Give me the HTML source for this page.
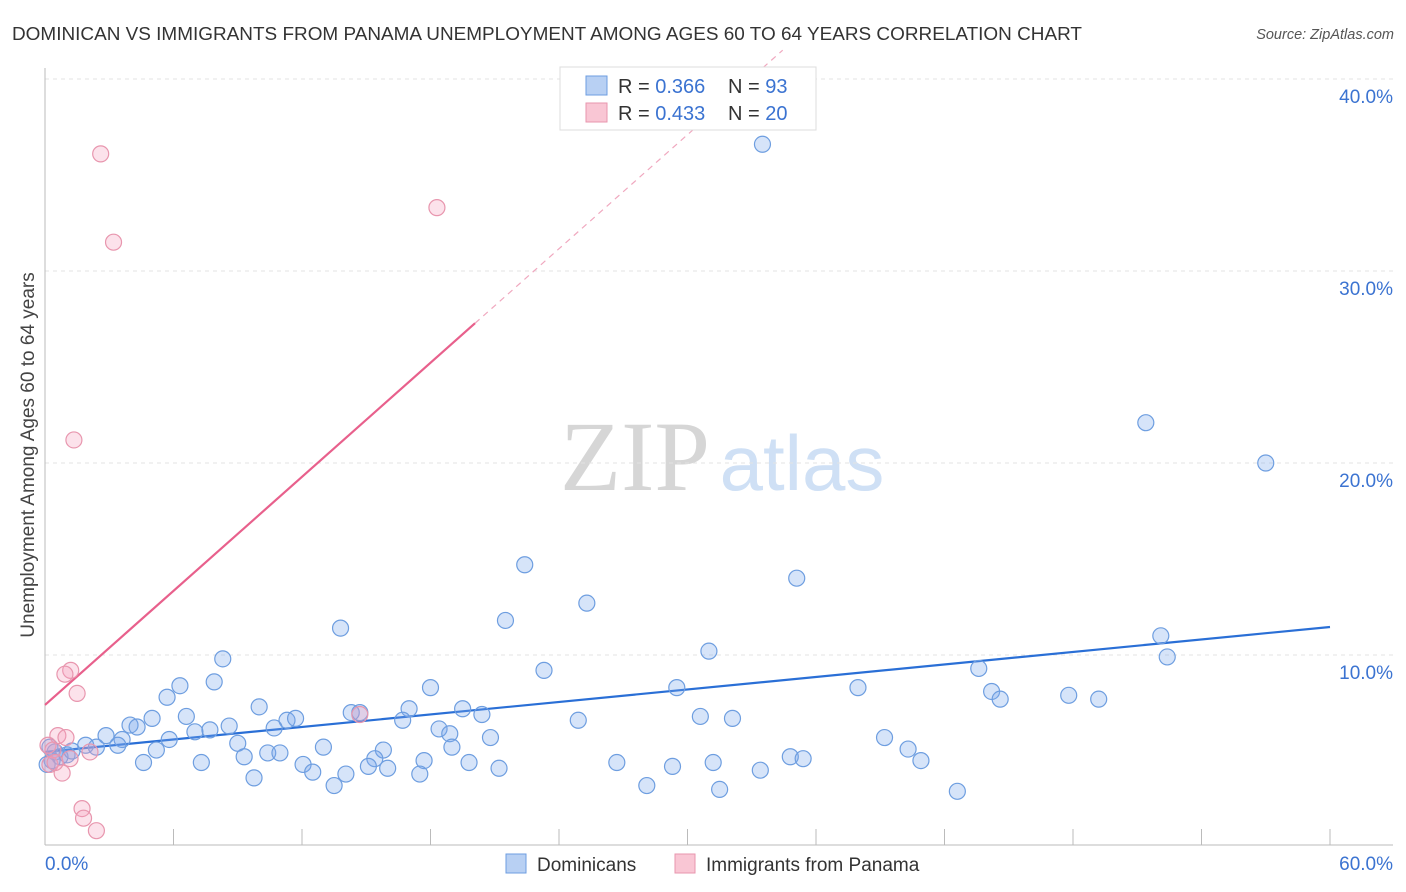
<!DOCTYPE html>
<html><head><meta charset="utf-8">
<style>
body{margin:0;background:#fff;font-family:"Liberation Sans",sans-serif;}
#wrap{position:relative;width:1406px;height:892px;overflow:hidden;}
svg text{font-family:"Liberation Sans",sans-serif;}
</style></head>
<body>
<div id="wrap">
<svg id="chart" width="1406" height="892">
<text x="12" y="40" font-size="18" fill="#333" textLength="1070" lengthAdjust="spacingAndGlyphs">DOMINICAN VS IMMIGRANTS FROM PANAMA UNEMPLOYMENT AMONG AGES 60 TO 64 YEARS CORRELATION CHART</text>
<text x="1394" y="39" font-size="14.5" fill="#555" text-anchor="end" font-style="italic">Source: ZipAtlas.com</text>
<text x="0" y="0" font-size="19" fill="#444" transform="translate(34,455) rotate(-90)" text-anchor="middle">Unemployment Among Ages 60 to 64 years</text>
<g>
<text x="635" y="490" font-size="100" fill="#d6d6d6" style="font-family:'Liberation Serif',serif" text-anchor="middle">ZIP</text>
<text x="802" y="490" font-size="78" fill="#cfe0f5" text-anchor="middle">atlas</text>
</g>
<g id="grid"></g>
<g id="axes"></g>
<g id="lines"></g>
<g id="points"></g>
<g>
<rect x="560" y="67" width="256" height="63" fill="#fff" stroke="#ddd"/>
<rect x="586" y="76" width="21" height="19" fill="#b8d0f3" stroke="#6e9ee0"/>
<rect x="586" y="103" width="21" height="19" fill="#f9c6d4" stroke="#e896ae"/>
<text x="618" y="93" font-size="20" fill="#333">R = <tspan fill="#3b73d1">0.366</tspan></text>
<text x="728" y="93" font-size="20" fill="#333">N = <tspan fill="#3b73d1">93</tspan></text>
<text x="618" y="120" font-size="20" fill="#333">R = <tspan fill="#3b73d1">0.433</tspan></text>
<text x="728" y="120" font-size="20" fill="#333">N = <tspan fill="#3b73d1">20</tspan></text>
</g>
<g>
<rect x="506" y="854" width="20" height="19" fill="#b8d0f3" stroke="#6e9ee0"/>
<text x="537" y="871" font-size="19" fill="#333">Dominicans</text>
<rect x="675" y="854" width="20" height="19" fill="#f9c6d4" stroke="#e896ae"/>
<text x="706" y="871" font-size="19" fill="#333">Immigrants from Panama</text>
</g>
</svg>
</div>
<script>
const blueX=[33.5,51.4,57.0,22.4,35.1,25.3,21.5,13.8,52.1,52.4,31.0,8.3,23.3,43.6,6.3,7.9,18.0,29.5,37.96,44.2,47.8,49.2,44.6,5.7,10.0,17.0,19.5,5.0,6.6,14.3,14.7,20.4,11.3,11.7,16.7,24.9,30.6,32.1,3.97,8.6,7.7,10.7,18.4,4.3,7.0,2.85,18.9,5.8,3.6,20.8,39.2,9.0,1.9,3.4,2.4,13.0,19.0,40.3,5.2,15.8,10.4,10.97,9.3,34.8,35.4,15.4,17.7,4.6,7.3,26.7,40.9,19.8,31.2,12.05,15.1,29.3,16.0,21.2,12.5,14.05,33.4,17.5,9.76,13.5,28.1,31.5,42.6,0.23,0.47,0.7,0.33,1.03,0.1,1.26];
const blueY=[36.6,22.1,20.0,14.7,14.0,12.7,11.8,11.4,11.0,9.9,10.2,9.8,9.2,9.3,8.4,8.6,8.3,8.3,8.3,8.1,7.9,7.7,7.7,7.8,7.3,7.2,7.2,6.7,6.8,7.0,7.0,6.9,6.6,6.7,6.6,6.6,6.8,6.7,6.35,6.3,6.1,6.2,6.15,6.25,6.0,5.8,5.9,5.6,5.6,5.7,5.7,5.4,5.3,5.3,5.2,5.2,5.2,5.1,5.05,5.05,4.9,4.9,4.7,4.7,4.6,4.6,4.5,4.4,4.4,4.4,4.5,4.4,4.4,4.3,4.2,4.2,4.1,4.1,3.9,3.8,4.0,3.8,3.6,3.2,3.2,3.0,2.9,5.2,4.95,4.7,4.5,4.8,4.3,5.0];
const pinkX=[2.6,3.2,18.3,1.35,1.2,0.93,1.5,14.7,0.6,0.98,2.1,0.14,0.37,1.17,0.23,0.8,1.73,1.8,2.4,0.47];
const pinkY=[36.1,31.5,33.3,21.2,9.2,9.0,8.0,6.9,5.8,5.7,4.95,5.3,5.05,4.6,4.3,3.85,2.0,1.5,0.85,4.4];
const yTicks=[10,20,30,40];
const yTickLabels=["10.0%","20.0%","30.0%","40.0%"];
const xTicks=[0,6,12,18,24,30,36,42,48,54,60];
const blueTrend=[4.95,11.46];
const pinkTrend=[7.4,0.99];
const pinkSolidEnd=20.08;

const NS="http://www.w3.org/2000/svg";
const X0=45,X1=1330,Y0=847,PX=(X1-X0)/60,PY=19.2;
const sx=v=>X0+v*PX, sy=v=>Y0-v*PY;
function mk(tag,attrs,parent){const e=document.createElementNS(NS,tag);for(const k in attrs)e.setAttribute(k,attrs[k]);document.getElementById(parent).appendChild(e);return e;}

yTicks.forEach((t,i)=>{
  const g=mk('line',{x1:X0,x2:1393,y1:sy(t),y2:sy(t),stroke:'#e3e3e3','stroke-dasharray':'4,4'},'grid');
  
  
  const l=mk('text',{x:1393,y:sy(t)+24,'font-size':19,fill:'#3b73d1','text-anchor':'end'},'grid');
  l.textContent=yTickLabels[i];
  
  
});
const ax=mk('line',{x1:X0,x2:X0,y1:68,y2:845,stroke:'#bbb'},'axes');


const bx=mk('line',{x1:X0,x2:1393,y1:845,y2:845,stroke:'#bbb'},'axes');


xTicks.forEach(t=>{
  const k=mk('line',{x1:sx(t),x2:sx(t),y1:829,y2:845,stroke:'#bbb'},'axes');
  
  
});
const xl0=mk('text',{x:45,y:870,'font-size':19,fill:'#3b73d1'},'axes');xl0.textContent="0.0%";


const xl1=mk('text',{x:1393,y:870,'font-size':19,fill:'#3b73d1','text-anchor':'end'},'axes');xl1.textContent="60.0%";



for(let i=0;i<blueX.length;i++){
  const c=mk('circle',{cx:sx(blueX[i]),cy:sy(blueY[i]),r:8,fill:'rgba(120,165,235,0.3)',stroke:'#6e9ee0','stroke-width':1.2},'points');
  
  
}
for(let i=0;i<pinkX.length;i++){
  const c=mk('circle',{cx:sx(pinkX[i]),cy:sy(pinkY[i]),r:8,fill:'rgba(245,160,190,0.3)',stroke:'#e896ae','stroke-width':1.2},'points');
  
  
}
const bl=mk('line',{x1:sx(0),y1:sy(blueTrend[0]),x2:sx(60),y2:sy(blueTrend[1]),stroke:'#2a6fd6','stroke-width':2.2},'lines');


const pe=pinkTrend[0]+pinkTrend[1]*pinkSolidEnd;
const pl=mk('line',{x1:sx(0),y1:sy(pinkTrend[0]),x2:sx(pinkSolidEnd),y2:sy(pe),stroke:'#e8608c','stroke-width':2.2},'lines');


const xEnd=(41.5-pinkTrend[0])/pinkTrend[1];
const pd=mk('line',{x1:sx(pinkSolidEnd),y1:sy(pe),x2:sx(xEnd),y2:sy(41.5),stroke:'#f0a8bf','stroke-width':1.2,'stroke-dasharray':'6,5'},'lines');


</script>
</body></html>
